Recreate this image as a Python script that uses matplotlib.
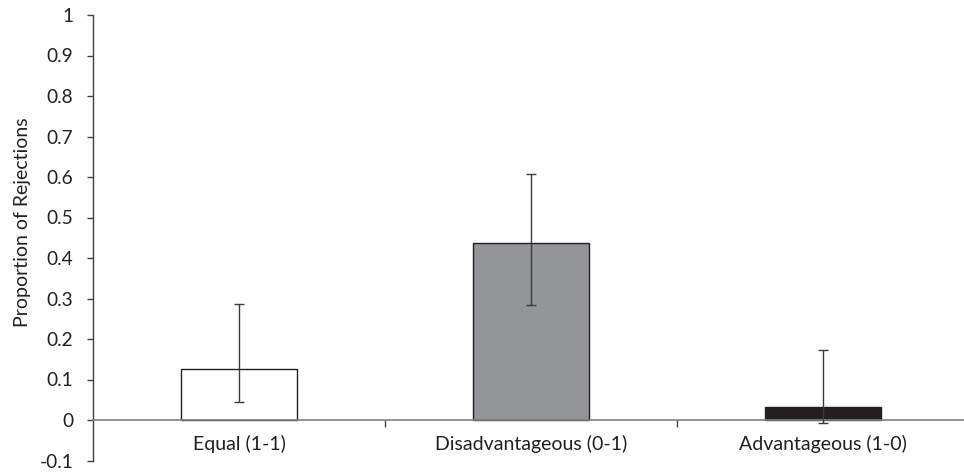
import matplotlib.pyplot as plt

categories = ['Equal (1-1)', 'Disadvantageous (0-1)', 'Advantageous (1-0)']
proportions = [0.125, 0.438, 0.032]
err_low = [0.044, 0.283, -0.007]
err_high = [0.286, 0.607, 0.172]
bar_colors = ['white', '#939598', '#231f20']

plt.rcParams['font.family'] = ['Lato', 'DejaVu Sans']

fig = plt.figure(figsize=(9.64, 4.72), dpi=100)
ax = fig.add_axes([93 / 964, 11.5 / 472, 871 / 964, 445.5 / 472])

x = range(len(categories))
lower = [p - lo for p, lo in zip(proportions, err_low)]
upper = [hi - p for p, hi in zip(proportions, err_high)]

ax.bar(x, proportions, width=0.4, color=bar_colors, edgecolor='#231f20',
       linewidth=1.0, zorder=2)
ax.errorbar(x, proportions, yerr=[lower, upper], fmt='none', ecolor='#3a3a3a',
            elinewidth=1.0, capsize=3.5, capthick=1.0, zorder=3)

ax.set_xlim(-0.5, 2.483)
ax.set_ylim(-0.1, 1.0)
ax.set_yticks([i / 10 for i in range(-1, 11)])
ax.set_yticklabels(['-0.1', '0', '0.1', '0.2', '0.3', '0.4', '0.5', '0.6',
                    '0.7', '0.8', '0.9', '1'])

ax.spines['top'].set_visible(False)
ax.spines['right'].set_visible(False)
ax.spines['bottom'].set_position(('data', 0))
ax.spines['bottom'].set_color('#808080')
ax.spines['bottom'].set_linewidth(1.2)
ax.spines['left'].set_color('#404040')
ax.spines['left'].set_linewidth(1.0)

ax.set_xticks(list(x))
ax.set_xticklabels(categories, fontsize=14, color='#231f20')
ax.set_xticks([0.5, 1.5], minor=True)
ax.tick_params(axis='x', which='major', length=0, pad=11)
ax.tick_params(axis='x', which='minor', length=5, width=1.0, color='#404040',
               direction='out')
ax.tick_params(axis='y', length=4.3, width=1.0, color='#404040',
               labelsize=13.8, labelcolor='#231f20', pad=10)

ax.set_ylabel('Proportion of Rejections', fontsize=14, color='#231f20')
ax.yaxis.set_label_coords(-0.071, 0.535)

fig.savefig('out.png', dpi=100)
